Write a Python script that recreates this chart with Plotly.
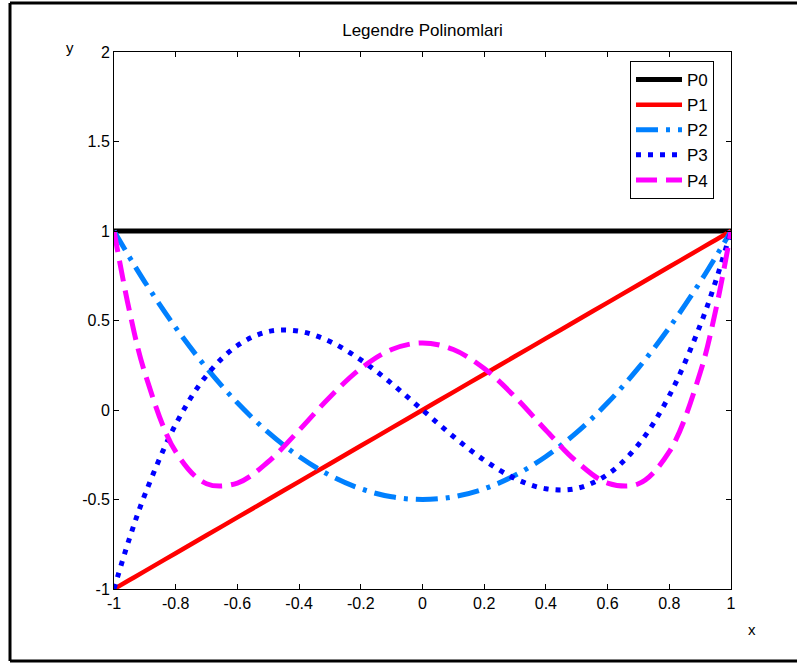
import plotly.graph_objects as go

x = [-1, -0.95, -0.9, -0.8, -0.7, -0.6, -0.5, -0.4, -0.3, -0.2, -0.1, 0,
     0.1, 0.2, 0.3, 0.4, 0.5, 0.6, 0.7, 0.8, 0.9, 0.95, 1]
p0 = [1, 1, 1, 1, 1, 1, 1, 1, 1, 1, 1, 1, 1, 1, 1, 1, 1, 1, 1, 1, 1, 1, 1]
p1 = [-1, -0.95, -0.9, -0.8, -0.7, -0.6, -0.5, -0.4, -0.3, -0.2, -0.1, 0,
      0.1, 0.2, 0.3, 0.4, 0.5, 0.6, 0.7, 0.8, 0.9, 0.95, 1]
p2 = [1, 0.854, 0.715, 0.46, 0.235, 0.04, -0.125, -0.26, -0.365, -0.44, -0.485, -0.5,
      -0.485, -0.44, -0.365, -0.26, -0.125, 0.04, 0.235, 0.46, 0.715, 0.854, 1]
p3 = [-1, -0.718, -0.473, -0.08, 0.193, 0.36, 0.438, 0.44, 0.383, 0.28, 0.148, 0,
      -0.148, -0.28, -0.383, -0.44, -0.438, -0.36, -0.193, 0.08, 0.473, 0.718, 1]
p4 = [1, 0.554, 0.208, -0.233, -0.412, -0.408, -0.289, -0.113, 0.073, 0.232, 0.338, 0.375,
      0.338, 0.232, 0.073, -0.113, -0.289, -0.408, -0.412, -0.233, 0.208, 0.554, 1]

names = ["P0", "P1", "P2", "P3", "P4"]
xticks = [-1, -0.8, -0.6, -0.4, -0.2, 0, 0.2, 0.4, 0.6, 0.8, 1]
xticktext = ["-1", "-0.8", "-0.6", "-0.4", "-0.2", "0", "0.2", "0.4", "0.6", "0.8", "1"]
yticks = [-1, -0.5, 0, 0.5, 1, 1.5, 2]
yticktext = ["-1", "-0.5", "0", "0.5", "1", "1.5", "2"]

series = [p0, p1, p2, p3, p4]
styles = [
    dict(color="#000000", width=5, dash="solid"),
    dict(color="#ff0000", width=4.5, dash="solid"),
    dict(color="#0080ff", width=5, dash="22px,8px,4px,8px"),
    dict(color="#0000ff", width=5, dash="5px,7px"),
    dict(color="#ff00ff", width=5, dash="21px,9px"),
]

fig = go.Figure()
for name, ys, st in zip(names, series, styles):
    fig.add_trace(go.Scatter(x=x, y=ys, mode="lines", name=name,
                             line=dict(shape="spline", **st)))

font = "Liberation Sans, Arial, sans-serif"
axis_common = dict(showline=True, linecolor="#000000", linewidth=1, mirror="ticks",
                   ticks="inside", ticklen=5, tickcolor="#000000", showgrid=False,
                   zeroline=False, tickfont=dict(family=font, size=16, color="#000000"))

fig.update_layout(
    width=797, height=664,
    margin=dict(l=114, r=66, t=52, b=75),
    paper_bgcolor="white", plot_bgcolor="white",
    title=dict(text="Legendre Polinomlari", x=(114 + 731) / 2 / 797, xanchor="center",
               y=1 - 30 / 664, yanchor="middle", yref="container",
               font=dict(family=font, size=17, color="#000000")),
    xaxis=dict(range=[-1, 1], tickvals=xticks, ticktext=xticktext, **axis_common),
    yaxis=dict(range=[-1, 2], tickvals=yticks, ticktext=yticktext, **axis_common),
    legend=dict(x=(630 - 114) / 617, y=(589 - 61) / 537, xanchor="left", yanchor="top",
                bgcolor="white", bordercolor="#000000", borderwidth=1,
                font=dict(family=font, size=17, color="#000000"),
                itemwidth=46, tracegroupgap=0),
    showlegend=True,
)

# axis letters
fig.add_annotation(text="y", xref="paper", yref="paper",
                   x=(70 - 114) / 617, y=(589 - 47) / 537, showarrow=False,
                   xshift=-6, yshift=10,
                   font=dict(family=font, size=15, color="#000000"))
fig.add_annotation(text="x", xref="paper", yref="paper",
                   x=(751 - 114) / 617, y=(589 - 630) / 537, showarrow=False,
                   xshift=7, yshift=-10,
                   font=dict(family=font, size=15, color="#000000"))

# outer figure frame (left, top, bottom)
L = (10 - 114) / 617
R = (797 - 114) / 617 + 0.01
T = (589 - 3) / 537
B = (589 - 661) / 537
for (x0, y0, x1, y1) in [(L, B, L, T), (L, T, R, T), (L, B, R, B)]:
    fig.add_shape(type="line", xref="paper", yref="paper", x0=x0, y0=y0, x1=x1, y1=y1,
                  line=dict(color="#000000", width=3))

fig.write_html("out.html")
